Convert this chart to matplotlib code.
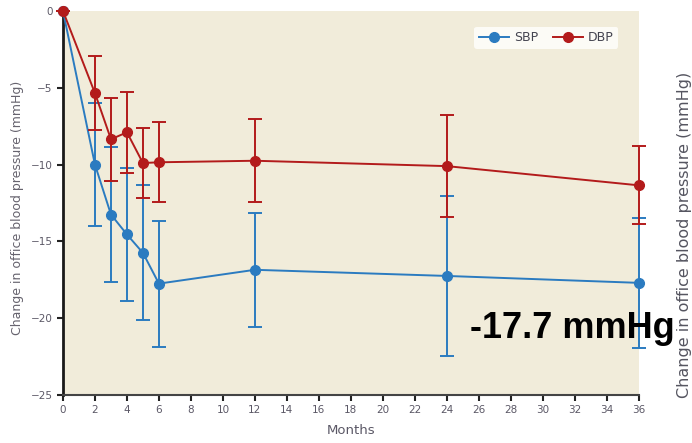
import matplotlib
matplotlib.use("Agg")
import matplotlib.pyplot as plt
from matplotlib.lines import Line2D

plt.rcParams['font.family'] = ['DejaVu Sans']

months = [0, 2, 3, 4, 5, 6, 12, 24, 36]
sbp = [0, -10.0, -13.25, -14.55, -15.75, -17.75, -16.85, -17.25, -17.7]
sbp_err = [0, 4.0, 4.4, 4.3, 4.4, 4.1, 3.7, 5.2, 4.25]
dbp = [0, -5.35, -8.35, -7.9, -9.9, -9.85, -9.75, -10.1, -11.35]
dbp_err = [0, 2.4, 2.7, 2.65, 2.3, 2.6, 2.7, 3.3, 2.55]
xticks = list(range(0, 37, 2))
yticks = [0, -5, -10, -15, -20, -25]
ytick_labels = ['0', '\u22125', '\u221210', '\u221215', '\u221220', '\u221225']

blue = '#2b7bc0'
red = '#b31b1b'
tick_col = '#5b5866'

fig = plt.figure(figsize=(6.92, 4.43), dpi=100)
ax = fig.add_axes([0.091, 0.1084, 0.832, 0.8668])
ax.set_facecolor('#f1ecda')

ax.errorbar(months, sbp, yerr=sbp_err, color=blue, marker='o', markersize=7,
            lw=1.4, elinewidth=1.4, capsize=5, capthick=1.4,
            clip_on=False, zorder=3)
ax.errorbar(months, dbp, yerr=dbp_err, color=red, marker='o', markersize=7,
            lw=1.4, elinewidth=1.4, capsize=5, capthick=1.4,
            clip_on=False, zorder=4)

ax.set_xlim(0, 36)
ax.set_ylim(-25, 0)
ax.set_xticks(xticks)
ax.set_yticks(yticks)
ax.set_yticklabels(ytick_labels)
ax.tick_params(axis='both', direction='out', length=4, width=1.5, colors='#222222',
               labelcolor=tick_col, labelsize=7.5)
for s in ['top', 'right']:
    ax.spines[s].set_visible(False)
ax.spines['left'].set_linewidth(2)
ax.spines['left'].set_color('#1a1a1a')
ax.spines['bottom'].set_linewidth(1.5)
ax.spines['bottom'].set_color('#444444')

ax.set_xlabel('Months', fontsize=9.5, color=tick_col, labelpad=6)
fig.text(0.025, 0.53, 'Change in office blood pressure (mmHg)', rotation=90,
         fontsize=9, color='#66636e', ha='center', va='center')

handles = [Line2D([], [], color=blue, marker='o', markersize=7, lw=1.4),
           Line2D([], [], color=red, marker='o', markersize=7, lw=1.4)]
leg = ax.legend(handles, ['SBP', 'DBP'], loc='upper right',
                bbox_to_anchor=(0.975, 0.975), ncol=2, frameon=True, fontsize=9,
                handlelength=2.4, columnspacing=1.2, borderpad=0.35,
                handletextpad=0.4)
leg.get_frame().set_facecolor('#fcfbf6')
leg.get_frame().set_edgecolor('none')
leg.get_frame().set_alpha(1)
for t in leg.get_texts():
    t.set_color('#444450')

fig.text(0.9995, 0.47, 'Change in office blood pressure (mmHg)', rotation=90,
         fontsize=11.5, color='#555560', ha='right', va='center')

fig.text(0.679, 0.237, '-17.7 mmHg', fontsize=26, fontweight='bold',
         family='Liberation Sans', color='black', ha='left', va='baseline')

fig.savefig('out.png', dpi=100)
